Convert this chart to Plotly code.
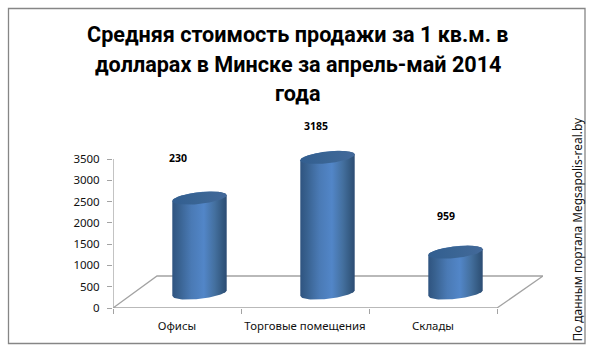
import numpy as np
import plotly.graph_objects as go

categories = ["Офисы", "Торговые помещения", "Склады"]
values = [2230, 3185, 959]
value_labels = ["230", "3185", "959"]
y_ticks = [0, 500, 1000, 1500, 2000, 2500, 3000, 3500]
title_lines = ["Средняя стоимость продажи за 1 кв.м. в", "долларах в Минске за апрель-май 2014", "года"]
side_note = "По данным портала Megsapolis-real.by"

W, H = 596, 353
L, R, T, B = 113, 543, 130, 308
Y_MAX = 3500
UY = Y_MAX / 149          # data units per pixel
Y_TOP = (B - T) * UY
X_MAX = 3 * (R - L) / 384
UX = X_MAX / (R - L)
GRAY = "#a3a3a3"
TXT = "#111111"

BASE = 15 * UY            # floor offset of the cylinder base
XSHIFT = 22.5 * UX        # depth shift of cylinders
RX = 27.2                 # ellipse half width px
RY = 5.9                  # ellipse half height px
TILT = 0.105              # ellipse tilt

BODY = [[0, "#2f5480"], [0.12, "#38618f"], [0.35, "#4a7ab5"], [0.58, "#5286c8"],
        [0.78, "#44709f"], [0.93, "#33587f"], [1, "#2c4c74"]]
TOP = [[0, "#325e90"], [0.5, "#3a6594"], [1, "#43699a"]]


def ellipse(cx, cy, t):
    dx = RX * np.cos(t)
    dy = RY * np.sin(t) + TILT * dx
    return cx + dx * UX, cy + dy * UY


fig = go.Figure()
centres = [i + 0.5 + XSHIFT for i in range(len(categories))]

fig.add_trace(go.Bar(
    x=centres, y=values, base=[BASE] * len(values), width=(2 * RX - 8) * UX,
    marker=dict(color="#4a7ab5", line_width=0), hoverinfo="skip",
))

for cx, v in zip(centres, values):
    top = BASE + v
    tt = np.linspace(0, np.pi, 40)
    x1, y1 = ellipse(cx, top, np.pi - tt)           # upper arc of top, left to right
    x2, y2 = ellipse(cx, BASE, -tt)                 # lower arc of base, right to left
    fig.add_trace(go.Scatter(
        x=np.r_[x1, x2], y=np.r_[y1, y2], mode="lines", fill="toself",
        line=dict(width=0), fillgradient=dict(type="horizontal", colorscale=BODY),
        hoverinfo="skip",
    ))
    ta = np.linspace(0, 2 * np.pi, 80)
    x3, y3 = ellipse(cx, top, ta)
    fig.add_trace(go.Scatter(
        x=x3, y=y3, mode="lines", fill="toself",
        line=dict(width=0), fillgradient=dict(type="horizontal", colorscale=TOP),
        hoverinfo="skip",
    ))


def px(x):
    return (x - L) / (R - L)


def py(y):
    return (B - y) / (B - T)


shapes = [
    dict(type="rect", xref="paper", yref="paper", x0=px(8.5), x1=px(585), y0=py(343.5), y1=py(8.5),
         line=dict(color="#868686", width=1.3), layer="below"),
    dict(type="path", xref="x", yref="y", layer="below", line=dict(color=GRAY, width=1.3),
         path=f"M 0 0 L {44*UX} {32*UY} L {X_MAX} {32*UY} L {3} 0 Z"),
    dict(type="line", xref="x", yref="y", layer="below", x0=0, x1=0, y0=0, y1=Y_MAX,
         line=dict(color=GRAY, width=1.3)),
]

annotations = []
for lab, lx, ly in zip(value_labels, [177.5, 316, 445.5], [158, 126, 216]):
    annotations.append(dict(xref="paper", yref="paper", x=px(lx), y=py(ly), xanchor="center", yanchor="middle",
                            text=f"<b>{lab}</b>", showarrow=False,
                            font=dict(family="Noto Sans", size=10.5, color="#000000")))
for line, ly in zip(title_lines, [35, 64, 93]):
    annotations.append(dict(xref="paper", yref="paper", x=px(297.5), y=py(ly), xanchor="center", yanchor="middle",
                            text=line, showarrow=False,
                            font=dict(family="Roboto", size=21.6, color="#000000", weight="bold")))
annotations.append(dict(xref="paper", yref="paper", x=px(576), y=py(229.5), xanchor="center", yanchor="middle",
                        text=side_note, textangle=-90, showarrow=False,
                        font=dict(family="Noto Sans", size=11.9, color="#111111")))

fig.update_layout(
    width=W, height=H, margin=dict(l=L, r=W - R, t=T, b=H - B, autoexpand=False),
    paper_bgcolor="white", plot_bgcolor="rgba(0,0,0,0)", showlegend=False,
    shapes=shapes, annotations=annotations,
    xaxis=dict(range=[0, X_MAX], tickvals=[0.5, 1.5, 2.5], ticktext=categories, ticks="",
               showgrid=False, zeroline=False, showline=False, ticklabelstandoff=10,
               tickfont=dict(family="Noto Sans", size=11.4, color=TXT),
               minor=dict(tickvals=[0, 1, 2, 3], ticks="outside", ticklen=5, tickcolor=GRAY, tickwidth=1.3, showgrid=False)),
    yaxis=dict(range=[0, Y_TOP], tickvals=y_ticks, ticks="outside", ticklen=5, tickcolor=GRAY, tickwidth=1.3,
               showgrid=False, zeroline=False, showline=False, ticklabelstandoff=5,
               tickfont=dict(family="Noto Sans", size=11.5, color=TXT)),
)
fig.write_html("out.html", config={"displayModeBar": False},
               post_script="document.body.style.margin='0';document.body.style.overflow='hidden';")
